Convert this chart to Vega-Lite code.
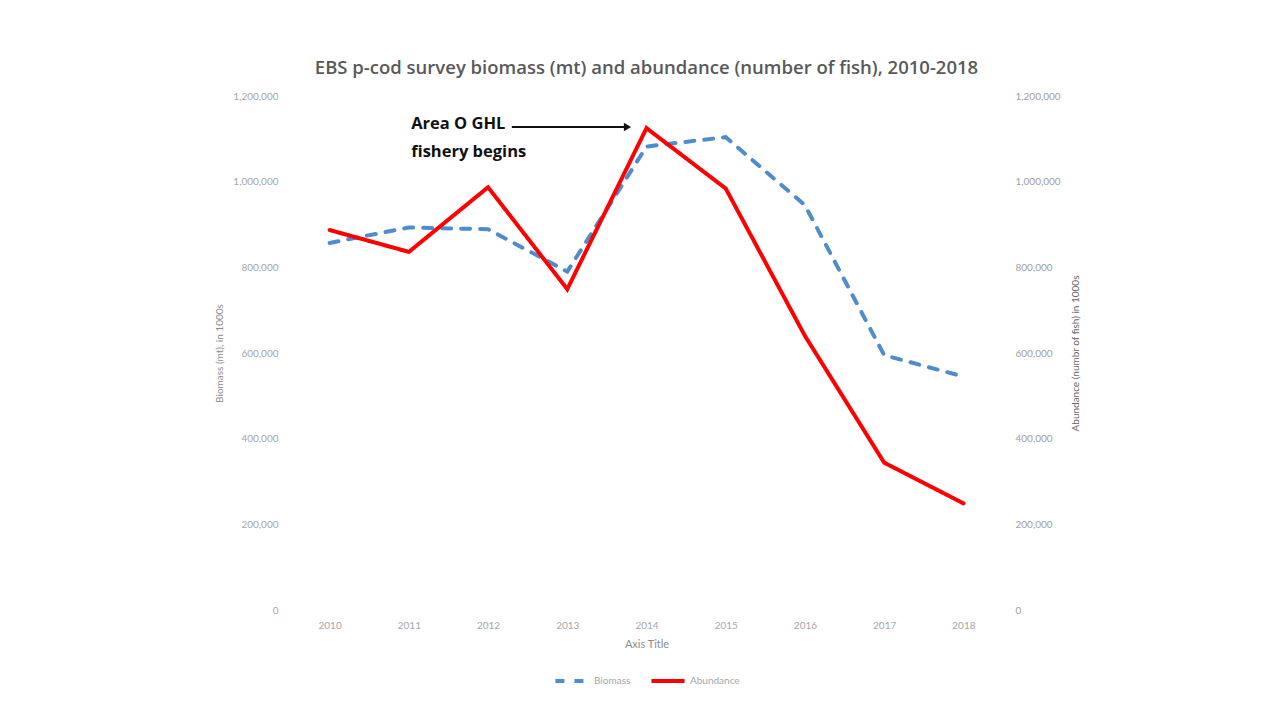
{
  "$schema": "https://vega.github.io/schema/vega-lite/v6.json",
  "autosize": "none",
  "width": 713,
  "height": 514,
  "padding": {"left": 290, "top": 96, "right": 270, "bottom": 114},
  "background": "white",
  "config": {"font": "Lato", "view": {"stroke": null}, "legend": {"layout": {"bottom": {"anchor": "middle"}}}},
  "title": {
    "text": "EBS p-cod survey biomass (mt) and abundance (number of fish), 2010-2018",
    "font": "Open Sans",
    "fontSize": 18.5,
    "fontWeight": 600,
    "color": "#595959",
    "anchor": "middle",
    "offset": 14
  },
  "datasets": {
    "survey": [
      {"year": 2010, "series": "Biomass", "value": 857000},
      {"year": 2011, "series": "Biomass", "value": 893000},
      {"year": 2012, "series": "Biomass", "value": 889000},
      {"year": 2013, "series": "Biomass", "value": 790000},
      {"year": 2014, "series": "Biomass", "value": 1082000},
      {"year": 2015, "series": "Biomass", "value": 1104000},
      {"year": 2016, "series": "Biomass", "value": 945000},
      {"year": 2017, "series": "Biomass", "value": 595000},
      {"year": 2018, "series": "Biomass", "value": 545000},
      {"year": 2010, "series": "Abundance", "value": 887000},
      {"year": 2011, "series": "Abundance", "value": 836000},
      {"year": 2012, "series": "Abundance", "value": 987000},
      {"year": 2013, "series": "Abundance", "value": 749000},
      {"year": 2014, "series": "Abundance", "value": 1125000},
      {"year": 2015, "series": "Abundance", "value": 984000},
      {"year": 2016, "series": "Abundance", "value": 640000},
      {"year": 2017, "series": "Abundance", "value": 344000},
      {"year": 2018, "series": "Abundance", "value": 249000}
    ],
    "notes": [
      {"kind": "text", "year": 2011.03, "value": 1134600, "label": "Area O GHL"},
      {"kind": "text", "year": 2011.03, "value": 1069000, "label": "fishery begins"},
      {"kind": "arrow", "year": 2012.3, "year_end": 2013.72, "value": 1127600},
      {"kind": "head", "year": 2013.76, "value": 1127600}
    ]
  },
  "layer": [
    {
      "encoding": {
        "x": {
          "field": "year",
          "type": "quantitative",
          "scale": {"domain": [2009.5, 2018.5], "nice": false, "zero": false},
          "axis": {
            "values": [2010, 2011, 2012, 2013, 2014, 2015, 2016, 2017, 2018],
            "format": "d",
            "labelColor": "#a6a6a6",
            "labelFontSize": 10,
            "labelPadding": 10,
            "labelFlush": false,
            "title": "Axis Title",
            "titleColor": "#8c8c8c",
            "titleFontSize": 11,
            "titleFontWeight": "normal",
            "titlePadding": 8,
            "domain": false,
            "ticks": false,
            "grid": false
          }
        },
        "y": {
          "field": "value",
          "type": "quantitative",
          "scale": {"domain": [0, 1200000], "nice": false},
          "axis": {
            "orient": "left",
            "values": [0, 200000, 400000, 600000, 800000, 1000000, 1200000],
            "format": ",d",
            "labelColor": "#a6a6a6",
            "labelFontSize": 10,
            "labelPadding": 12,
            "title": "Biomass (mt), in 1000s",
            "titleColor": "#8c8c8c",
            "titleFontSize": 10,
            "titleFontWeight": "normal",
            "titlePadding": 8,
            "domain": false,
            "ticks": false,
            "grid": false
          }
        }
      },
      "layer": [
        {
          "data": {"name": "survey"},
          "transform": [{"filter": "datum.series === 'Biomass'"}],
          "mark": {"type": "line", "strokeWidth": 4, "strokeCap": "round"},
          "encoding": {
            "color": {
              "field": "series",
              "type": "nominal",
              "scale": {"domain": ["Biomass", "Abundance"], "range": ["#4f8ccc", "#ff0000"]},
              "legend": {
                "orient": "bottom",
                "direction": "horizontal",
                "title": null,
                "symbolType": "stroke",
                "symbolStrokeWidth": 4,
                "symbolSize": 1100,
                "labelFontSize": 10,
                "labelColor": "#a6a6a6",
                "labelOffset": 3,
                "columnPadding": 12,
                "offset": 13
              }
            },
            "strokeDash": {
              "field": "series",
              "type": "nominal",
              "scale": {"domain": ["Biomass", "Abundance"], "range": [[9, 10], [1, 0]]},
              "legend": {
                "orient": "bottom",
                "direction": "horizontal",
                "title": null,
                "symbolType": "stroke",
                "symbolStrokeWidth": 4,
                "symbolSize": 1100,
                "labelFontSize": 10,
                "labelColor": "#a6a6a6",
                "labelOffset": 3,
                "columnPadding": 12,
                "offset": 13
              }
            }
          }
        },
        {
          "data": {"name": "notes"},
          "transform": [{"filter": "datum.kind === 'text'"}],
          "mark": {"type": "text", "align": "left", "baseline": "middle", "fontSize": 16.5, "fontWeight": "bold", "color": "#111111", "font": "Open Sans"},
          "encoding": {"text": {"field": "label"}}
        },
        {
          "data": {"name": "notes"},
          "transform": [{"filter": "datum.kind === 'arrow'"}],
          "mark": {"type": "rule", "strokeWidth": 2, "color": "#111111"},
          "encoding": {"x2": {"field": "year_end"}}
        },
        {
          "data": {"name": "notes"},
          "transform": [{"filter": "datum.kind === 'head'"}],
          "mark": {"type": "point", "shape": "triangle-right", "filled": true, "size": 70, "color": "#111111", "opacity": 1}
        }
      ]
    },
    {
      "data": {"name": "survey"},
      "transform": [{"filter": "datum.series === 'Abundance'"}],
      "mark": {"type": "line", "strokeWidth": 4, "strokeCap": "round", "strokeJoin": "miter"},
      "encoding": {
        "x": {"field": "year", "type": "quantitative"},
        "y": {
          "field": "value",
          "type": "quantitative",
          "scale": {"domain": [0, 1200000], "nice": false},
          "axis": {
            "orient": "right",
            "values": [0, 200000, 400000, 600000, 800000, 1000000, 1200000],
            "format": ",d",
            "labelColor": "#a0a0a0",
            "labelFontSize": 10,
            "labelPadding": 12,
            "title": "Abundance (numbr of fish) in 1000s",
            "titleColor": "#666666",
            "titleFontSize": 10,
            "titleFontWeight": "normal",
            "titleAngle": 270,
            "titlePadding": 20,
            "domain": false,
            "ticks": false,
            "grid": false
          }
        },
        "color": {"field": "series", "type": "nominal"},
        "strokeDash": {"field": "series", "type": "nominal"}
      }
    }
  ],
  "resolve": {"scale": {"y": "independent"}}
}
